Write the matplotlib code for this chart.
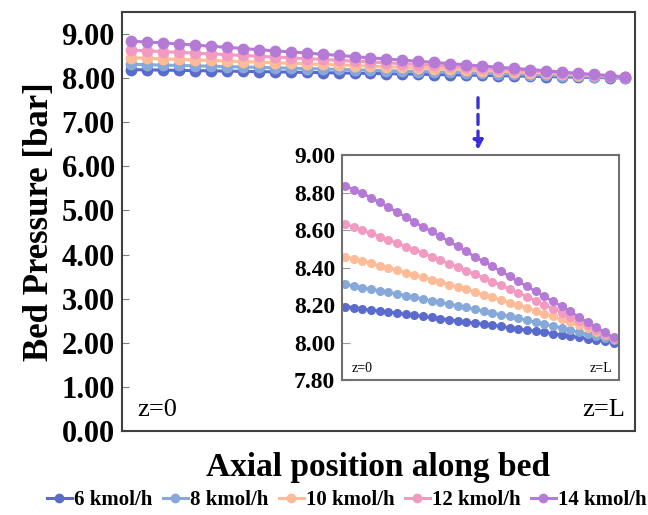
import matplotlib
matplotlib.use("Agg")
import matplotlib.pyplot as plt

plt.rcParams['font.family'] = ['Liberation Serif', 'DejaVu Serif']

# posiciones a lo largo del lecho (32 puntos)
pos = list(range(32))

p6 = [8.190, 8.185, 8.179, 8.174, 8.168, 8.163, 8.157, 8.151, 8.146, 8.140, 8.134, 8.128,
      8.122, 8.116, 8.110, 8.104, 8.098, 8.092, 8.086, 8.080, 8.073, 8.067, 8.061, 8.054,
      8.047, 8.041, 8.034, 8.027, 8.020, 8.013, 8.006, 8.000]
p8 = [8.310, 8.302, 8.293, 8.285, 8.276, 8.268, 8.259, 8.250, 8.241, 8.232, 8.223, 8.214,
      8.205, 8.196, 8.187, 8.177, 8.168, 8.158, 8.148, 8.139, 8.129, 8.119, 8.109, 8.098,
      8.088, 8.077, 8.066, 8.055, 8.044, 8.033, 8.022, 8.011]
p10 = [8.458, 8.446, 8.434, 8.422, 8.410, 8.398, 8.386, 8.373, 8.361, 8.348, 8.335, 8.322,
       8.309, 8.296, 8.283, 8.269, 8.255, 8.241, 8.227, 8.213, 8.199, 8.184, 8.169, 8.154,
       8.139, 8.123, 8.107, 8.091, 8.075, 8.058, 8.041, 8.022]
p12 = [8.632, 8.615, 8.598, 8.582, 8.564, 8.547, 8.529, 8.512, 8.494, 8.476, 8.458, 8.440,
       8.421, 8.402, 8.383, 8.364, 8.345, 8.325, 8.305, 8.285, 8.265, 8.244, 8.223, 8.202,
       8.181, 8.159, 8.137, 8.114, 8.091, 8.068, 8.044, 8.020]
p14 = [8.836, 8.815, 8.797, 8.771, 8.747, 8.721, 8.696, 8.669, 8.643, 8.616, 8.593, 8.566,
       8.539, 8.513, 8.486, 8.456, 8.433, 8.406, 8.379, 8.353, 8.326, 8.299, 8.273, 8.246,
       8.219, 8.193, 8.166, 8.136, 8.107, 8.083, 8.054, 8.027]

labels = ['6 kmol/h', '8 kmol/h', '10 kmol/h', '12 kmol/h', '14 kmol/h']
colors = ['#5a6acd', '#86a9da', '#fdbb97', '#f29ac2', '#b47ad6']
series = [p6, p8, p10, p12, p14]

main_ticks = [0, 1, 2, 3, 4, 5, 6, 7, 8, 9]
inset_ticks = [7.8, 8.0, 8.2, 8.4, 8.6, 8.8, 9.0]

fig = plt.figure(figsize=(6.48, 5.15), dpi=100)

# grafica principal
ax = fig.add_axes([0.188, 0.163, 0.792, 0.814])
for y, c, lab in zip(series, colors, labels):
    ax.plot(pos, y, color=c, lw=2.2, marker='o', ms=7.5, label=lab)
ax.set_xlim(-0.6, 31.6)
ax.set_ylim(0, 9.5)
ax.set_yticks(main_ticks)
ax.set_yticklabels([f'{t:.2f}' for t in main_ticks], fontsize=22, fontweight='bold')
ax.set_xticks([])
ax.tick_params(axis='y', direction='in', length=5, color='#7f7f7f', pad=5)
for s in ax.spines.values():
    s.set_color('#404040')
    s.set_linewidth(1.5)
ax.set_ylabel('Bed Pressure [bar]', fontsize=25, fontweight='bold', labelpad=4)
ax.set_xlabel('Axial position along bed', fontsize=24, fontweight='bold', labelpad=15)
ax.text(0.03, 0.05, 'z=0', transform=ax.transAxes, fontsize=19, va='center', ha='left')
ax.text(0.98, 0.05, 'z=L', transform=ax.transAxes, fontsize=19, va='center', ha='right')

# ampliacion
axi = fig.add_axes([0.528, 0.262, 0.427, 0.437])
for y, c in zip(series, colors):
    axi.plot(pos, y, color=c, lw=2.0, marker='o', ms=5.5)
axi.set_xlim(-0.35, 31.6)
axi.set_ylim(7.8, 9.0)
axi.set_yticks(inset_ticks)
axi.set_yticklabels([f'{t:.2f}' for t in inset_ticks], fontsize=17, fontweight='bold')
axi.set_xticks([])
axi.tick_params(axis='y', direction='in', length=6, color='#9a9a9a', pad=5)
for s in axi.spines.values():
    s.set_color('#707070')
    s.set_linewidth(1.5)
axi.text(0.036, 0.05, 'z=0', transform=axi.transAxes, fontsize=10, va='center', ha='left')
axi.text(0.975, 0.05, 'z=L', transform=axi.transAxes, fontsize=10, va='center', ha='right')

# flecha
fig.patches.append(matplotlib.patches.FancyArrowPatch(
    (478 / 648, 1 - 95 / 515), (478 / 648, 1 - 153 / 515), transform=fig.transFigure,
    arrowstyle='-|>', mutation_scale=14, color='#3b30d4', lw=2.4, linestyle=(0, (3, 2))))

fig.legend(loc='lower center', bbox_to_anchor=(0.535, -0.027), ncol=5, frameon=False,
           prop={'weight': 'bold', 'size': 15}, handlelength=1.2, handletextpad=0.1,
           columnspacing=0.5, markerscale=0.8)

fig.savefig('out.png', dpi=100)
